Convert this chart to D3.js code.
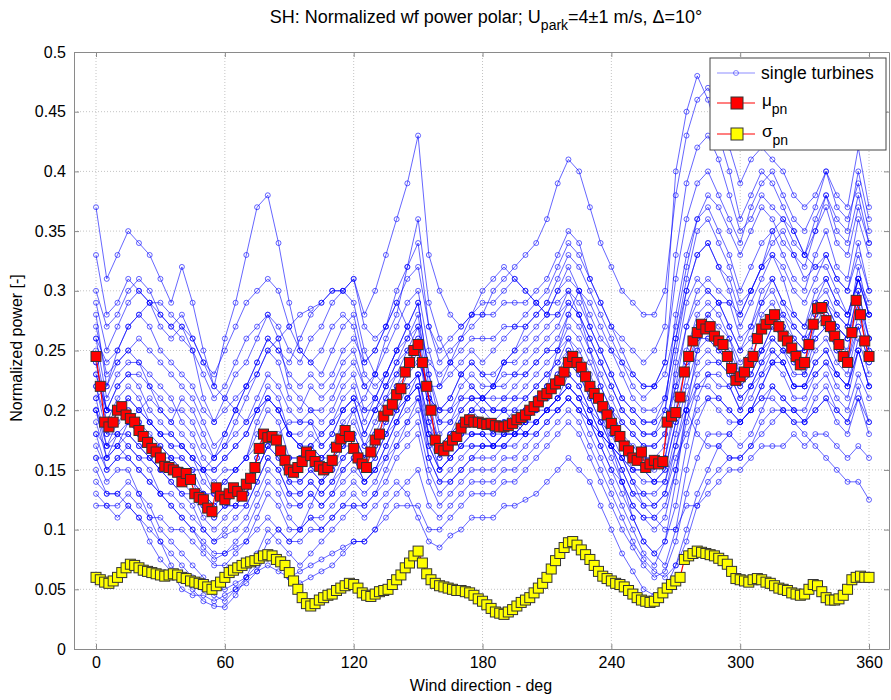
<!DOCTYPE html>
<html lang="en">
<head>
<script src="https://d3js.org/d3.v7.min.js"></script>
</head>
<body style="margin:0;background:#fff">
<style>
svg text { font-family: "Liberation Sans", Arial, sans-serif; fill: #000; }
.grid line { stroke: #c4c4c4; stroke-dasharray: 1,2; }
.ax path, .ax line { stroke: #8a8a8a; }
</style>
<script>
// wind direction of the single turbine curves (deg, every 5)
var dirT = d3.range(0, 361, 5);

// normalized power of the single turbines, 0..360 deg
var wt01 = [.37,.31,.33,.35,.34,.33,.31,.29,.32,.29, .25,.22,.26,.29,.33,.37,.38,.34,.29,.25, .24,.23,.25,.27,.28,.24,.25,.27,.29,.27, .25,.21,.20,.21,.23,.24,.23,.22,.24,.25, .26,.27,.28,.30,.32,.30,.27,.25,.23,.21, .20,.19,.19,.21,.26,.30,.33,.34,.32,.30, .27,.29,.31,.33,.31,.28,.27,.30,.31,.29, .28,.31,.29];
var wt02 = [.30,.27,.28,.30,.31,.30,.28,.27,.26,.25, .23,.21,.22,.24,.26,.27,.28,.27,.25,.24, .26,.27,.29,.30,.31,.28,.30,.33,.36,.39, .43,.33,.30,.28,.27,.28,.29,.29,.30,.31, .30,.29,.28,.30,.31,.30,.28,.26,.25,.24, .22,.21,.22,.23,.27,.32,.36,.38,.37,.35, .33,.35,.37,.36,.34,.33,.32,.35,.37,.34, .33,.37,.34];
var wt03 = [.26,.24,.25,.27,.28,.27,.25,.24,.23,.22, .20,.19,.20,.21,.22,.24,.26,.25,.23,.22, .23,.22,.23,.25,.26,.24,.25,.27,.29,.31, .32,.27,.24,.25,.26,.27,.28,.30,.31,.32, .33,.34,.36,.39,.41,.40,.37,.34,.32,.30, .29,.28,.28,.30,.38,.43,.46,.47,.45,.42, .39,.41,.42,.41,.40,.38,.37,.38,.40,.38, .37,.42,.37];
var wt04 = [.28,.22,.24,.25,.24,.22,.20,.19,.21,.20, .18,.16,.17,.19,.21,.23,.25,.24,.21,.20, .22,.21,.22,.24,.25,.22,.23,.25,.27,.29, .30,.25,.22,.23,.24,.25,.24,.25,.26,.27, .28,.29,.30,.32,.34,.33,.31,.29,.27,.26, .25,.24,.25,.27,.40,.45,.48,.46,.43,.40, .36,.38,.40,.39,.37,.35,.33,.36,.38,.36, .35,.40,.36];
var wt05 = [.33,.28,.29,.31,.30,.29,.27,.26,.27,.25, .21,.19,.21,.23,.24,.26,.28,.26,.22,.21, .20,.19,.20,.22,.23,.20,.21,.23,.25,.27, .29,.23,.19,.20,.22,.23,.22,.22,.23,.23, .24,.25,.26,.27,.29,.28,.26,.24,.22,.20, .19,.18,.18,.20,.28,.33,.36,.37,.35,.33, .30,.32,.34,.35,.33,.31,.30,.33,.35,.32, .31,.36,.33];
var wt06 = [.25,.20,.22,.23,.22,.20,.19,.18,.17,.16, .14,.13,.14,.15,.16,.19,.21,.20,.18,.17, .18,.17,.18,.20,.21,.18,.20,.22,.24,.26, .28,.22,.18,.19,.21,.22,.21,.21,.21,.22, .23,.24,.25,.26,.28,.27,.25,.23,.21,.19, .18,.17,.17,.18,.22,.27,.30,.31,.30,.29, .26,.27,.29,.31,.29,.27,.26,.29,.30,.28, .27,.32,.28];
var wt07 = [.20,.16,.18,.18,.17,.16,.15,.14,.13,.12, .10,.09,.10,.11,.12,.14,.16,.15,.13,.13, .14,.13,.14,.15,.16,.14,.15,.17,.19,.21, .22,.18,.15,.16,.17,.18,.18,.17,.18,.18, .19,.20,.21,.22,.23,.22,.20,.19,.17,.16, .14,.13,.13,.14,.18,.22,.25,.26,.25,.24, .22,.23,.25,.27,.26,.24,.23,.26,.27,.25, .24,.28,.25];
var wt08 = [.12,.12,.11,.12,.11,.10,.09,.08,.07,.06, .05,.045,.04,.05,.06,.07,.09,.10,.09,.09, .10,.10,.11,.12,.13,.12,.13,.14,.16,.17, .18,.14,.12,.13,.14,.15,.15,.15,.16,.16, .17,.18,.19,.20,.21,.20,.18,.16,.14,.12, .10,.08,.07,.09,.12,.17,.21,.23,.22,.22, .20,.21,.23,.25,.24,.22,.22,.24,.25,.23, .22,.26,.23];
var wt09 = [.16,.14,.15,.15,.13,.11,.09,.07,.06,.05, .04,.036,.035,.045,.06,.08,.10,.09,.08,.07, .08,.09,.10,.11,.12,.12,.13,.15,.17,.18, .19,.15,.13,.14,.15,.16,.16,.16,.17,.17, .18,.19,.20,.21,.22,.21,.19,.17,.15,.13, .11,.09,.08,.07,.10,.15,.19,.21,.21,.20, .19,.20,.22,.24,.23,.21,.21,.23,.24,.22, .21,.25,.22];
var wt10 = [.18,.15,.16,.17,.16,.15,.13,.12,.11,.10, .09,.08,.08,.09,.10,.12,.14,.13,.11,.10, .11,.10,.11,.12,.12,.11,.12,.13,.14,.13, .11,.09,.085,.095,.10,.11,.11,.11,.12,.12, .125,.13,.14,.15,.16,.15,.14,.12,.10,.08, .065,.05,.045,.05,.07,.10,.13,.15,.17,.18, .19,.20,.21,.22,.21,.20,.20,.22,.23,.21, .20,.23,.21];
var wt11 = [.22,.18,.20,.21,.20,.19,.18,.17,.16,.15, .13,.12,.13,.13,.14,.16,.18,.17,.15,.14, .15,.14,.15,.17,.18,.16,.17,.19,.21,.23, .25,.20,.17,.18,.19,.20,.20,.19,.20,.20, .21,.22,.23,.24,.25,.24,.22,.20,.18,.16, .14,.12,.12,.13,.16,.18,.20,.21,.20,.19, .19,.20,.21,.21,.20,.19,.18,.17,.16,.15, .14,.14,.125];
var wt12 = [.24,.19,.21,.22,.21,.19,.18,.17,.17,.16, .15,.14,.15,.15,.16,.18,.20,.19,.16,.16, .17,.16,.17,.19,.20,.17,.19,.21,.23,.25, .27,.21,.17,.18,.20,.21,.20,.20,.20,.21, .22,.23,.24,.25,.27,.26,.24,.22,.20,.18, .17,.16,.16,.17,.24,.29,.31,.30,.29,.27, .25,.26,.29,.30,.28,.26,.25,.28,.29,.27, .26,.30,.26];
var wt13 = [.14,.13,.13,.14,.13,.12,.10,.09,.08,.07, .06,.05,.05,.055,.06,.065,.07,.065,.06,.065, .07,.075,.08,.085,.09,.09,.10,.11,.12,.12, .12,.10,.10,.11,.12,.13,.13,.13,.14,.14, .15,.16,.17,.18,.19,.18,.16,.14,.12,.10, .085,.07,.06,.065,.09,.13,.16,.18,.18,.18, .17,.18,.20,.22,.21,.20,.19,.21,.22,.20, .19,.22,.19];
var wt14 = [.21,.17,.19,.20,.19,.18,.17,.16,.15,.14, .12,.11,.12,.13,.13,.15,.17,.16,.14,.13, .14,.13,.14,.16,.17,.15,.16,.18,.20,.22, .23,.19,.16,.17,.18,.19,.19,.18,.19,.19, .20,.21,.22,.23,.24,.23,.21,.19,.18,.17, .15,.15,.15,.16,.20,.24,.27,.28,.27,.26, .23,.24,.27,.28,.27,.25,.24,.27,.28,.26, .25,.29,.25];
var wt15 = [.27,.23,.24,.25,.26,.25,.24,.23,.22,.21, .19,.17,.18,.20,.22,.24,.26,.25,.24,.26, .28,.29,.30,.30,.31,.27,.26,.27,.30,.32, .34,.27,.25,.26,.27,.28,.28,.28,.29,.29, .29,.30,.31,.33,.35,.34,.31,.29,.27,.25, .23,.22,.22,.24,.31,.36,.39,.40,.38,.36, .34,.37,.39,.40,.38,.36,.35,.37,.40,.37, .36,.39,.35];
var wt16 = [.17,.15,.16,.16,.15,.14,.13,.12,.11,.10, .085,.075,.08,.085,.09,.11,.13,.12,.10,.10, .11,.11,.12,.13,.14,.13,.14,.16,.18,.19, .20,.16,.14,.15,.16,.17,.17,.17,.17,.18, .18,.19,.20,.21,.22,.21,.19,.17,.15,.14, .12,.11,.10,.11,.15,.20,.23,.24,.24,.23, .21,.22,.24,.26,.25,.23,.23,.25,.26,.24, .23,.27,.24];
var wt17 = [.23,.20,.22,.23,.23,.22,.21,.20,.20,.19, .17,.16,.17,.18,.19,.21,.23,.22,.20,.19, .19,.18,.19,.21,.22,.19,.21,.23,.25,.27, .29,.23,.20,.21,.23,.24,.23,.23,.24,.24, .25,.26,.27,.28,.30,.29,.27,.25,.23,.21, .20,.19,.19,.20,.25,.30,.33,.34,.32,.31, .28,.30,.32,.33,.32,.30,.29,.31,.33,.31, .30,.34,.30];
var wt18 = [.15,.13,.13,.12,.11,.09,.075,.065,.05,.045, .045,.04,.045,.05,.055,.065,.08,.075,.06,.055, .06,.065,.07,.08,.09,.09,.10,.12,.13,.14, .15,.12,.11,.12,.13,.14,.14,.14,.15,.15, .16,.17,.18,.19,.20,.19,.17,.15,.13,.11, .09,.075,.065,.06,.07,.09,.12,.14,.15,.16, .16,.17,.19,.20,.20,.19,.19,.20,.21,.19, .18,.21,.18];
var wt19 = [.22,.19,.20,.20,.19,.17,.16,.16,.15,.14, .13,.12,.13,.13,.14,.16,.18,.17,.15,.15, .16,.15,.16,.17,.18,.16,.18,.20,.22,.24, .26,.20,.17,.17,.19,.20,.19,.19,.19,.20, .20,.21,.22,.23,.25,.24,.22,.21,.19,.18, .16,.16,.16,.16,.21,.25,.28,.29,.28,.26, .24,.25,.28,.29,.27,.26,.25,.28,.29,.27, .26,.30,.26];
var wt20 = [.19,.16,.17,.18,.17,.16,.15,.14,.13,.13, .11,.10,.11,.12,.12,.14,.16,.15,.13,.12, .13,.12,.13,.15,.16,.14,.15,.17,.19,.21, .22,.17,.15,.16,.17,.18,.18,.17,.18,.18, .19,.20,.20,.21,.23,.22,.20,.18,.17,.15, .13,.13,.12,.13,.17,.21,.24,.25,.24,.23, .21,.22,.24,.25,.24,.22,.22,.24,.25,.23, .22,.25,.22];
var wt21 = [.29,.25,.27,.29,.30,.29,.28,.27,.28,.26, .24,.23,.25,.27,.29,.30,.31,.30,.27,.25, .24,.25,.27,.28,.27,.23,.22,.23,.25,.26, .27,.24,.23,.24,.25,.26,.26,.26,.27,.27, .27,.28,.29,.31,.33,.32,.30,.28,.26,.24, .23,.22,.22,.24,.33,.39,.42,.43,.41,.38, .35,.36,.38,.37,.36,.34,.33,.35,.38,.35, .34,.38,.34];
var wt22 = [.20,.17,.18,.19,.18,.17,.16,.15,.14,.13, .12,.11,.12,.12,.13,.15,.17,.16,.14,.14, .15,.14,.15,.16,.17,.15,.16,.18,.20,.21, .23,.18,.16,.17,.18,.19,.19,.18,.19,.19, .20,.21,.21,.22,.24,.23,.21,.19,.17,.15, .13,.12,.11,.10,.10,.12,.12,.13,.14,.15, .15,.16,.17,.17,.17,.18,.17,.18,.18,.17, .16,.17,.16];
var wt23 = [.26,.21,.23,.24,.24,.23,.22,.21,.19,.18, .16,.15,.16,.17,.18,.20,.22,.21,.18,.18, .19,.17,.18,.20,.21,.18,.20,.22,.24,.25, .26,.21,.19,.19,.20,.21,.21,.20,.21,.21, .21,.22,.23,.24,.26,.25,.23,.21,.20,.19, .18,.17,.17,.18,.23,.27,.29,.30,.29,.27, .25,.27,.30,.31,.29,.28,.27,.29,.31,.29, .28,.31,.28];
var wt24 = [.18,.17,.17,.16,.15,.14,.13,.13,.12,.11, .10,.09,.095,.10,.11,.13,.15,.14,.12,.12, .13,.12,.13,.14,.15,.14,.15,.16,.17,.19, .21,.17,.15,.16,.17,.17,.17,.17,.17,.18, .18,.19,.20,.21,.22,.21,.20,.18,.16,.14, .12,.11,.11,.12,.15,.19,.22,.23,.23,.22, .20,.22,.23,.24,.24,.22,.22,.23,.24,.23, .22,.25,.22];
var wt25 = [.13,.12,.12,.13,.12,.11,.11,.10,.10,.09, .08,.07,.07,.08,.09,.10,.11,.10,.09,.10, .12,.14,.16,.18,.20,.21,.23,.26,.28,.32, .36,.29,.26,.24,.23,.22,.21,.20,.20,.19, .18,.18,.19,.20,.21,.20,.19,.18,.17,.16, .15,.14,.14,.15,.19,.23,.26,.27,.26,.25, .23,.24,.25,.26,.25,.24,.24,.26,.27,.25, .24,.27,.24];
var wt26 = [.21,.22,.25,.27,.28,.29,.29,.28,.27,.26, .24,.22,.21,.20,.19,.20,.21,.20,.18,.17, .17,.16,.17,.18,.19,.17,.18,.19,.21,.22, .23,.19,.17,.18,.19,.20,.21,.22,.24,.25, .27,.28,.29,.29,.30,.28,.25,.22,.20,.18, .16,.15,.14,.14,.17,.20,.22,.22,.21,.20, .19,.20,.22,.24,.25,.25,.25,.27,.28,.27, .26,.29,.26];
var wt27 = [.20,.18,.18,.17,.16,.16,.15,.15,.14,.14, .13,.13,.14,.15,.16,.17,.18,.17,.16,.16, .17,.18,.19,.20,.21,.20,.20,.21,.22,.23, .24,.22,.22,.24,.26,.28,.30,.31,.32,.31, .30,.29,.28,.28,.29,.28,.26,.24,.22,.20, .19,.18,.18,.19,.22,.24,.26,.26,.25,.24, .22,.23,.25,.27,.28,.27,.26,.27,.29,.28, .27,.31,.28];
var wt28 = [.23,.20,.20,.21,.20,.19,.18,.18,.17,.16, .15,.15,.16,.17,.18,.20,.21,.20,.18,.17, .16,.16,.16,.17,.17,.16,.17,.18,.19,.20, .21,.18,.17,.17,.18,.18,.18,.18,.18,.19, .19,.19,.20,.20,.21,.20,.19,.18,.17,.16, .15,.15,.14,.15,.19,.20,.18,.17,.17,.16, .16,.17,.18,.19,.20,.20,.19,.20,.21,.20, .19,.21,.19];
var wt29 = [.24,.20,.20,.19,.18,.17,.17,.16,.16,.15, .15,.16,.18,.20,.22,.23,.25,.26,.27,.28, .285,.29,.30,.30,.29,.25,.23,.22,.23,.24, .25,.21,.20,.20,.21,.21,.21,.22,.22,.23, .23,.24,.25,.25,.26,.24,.22,.20,.17,.14, .11,.09,.08,.09,.14,.20,.25,.28,.29,.29, .28,.30,.32,.34,.35,.33,.31,.32,.33,.31, .30,.33,.30];
var wt30 = [.16,.16,.17,.19,.20,.21,.20,.19,.18,.17, .15,.13,.12,.12,.13,.15,.17,.18,.19,.19, .20,.20,.21,.23,.24,.22,.21,.20,.20,.21, .22,.16,.14,.14,.15,.16,.17,.17,.18,.18, .19,.20,.22,.25,.28,.30,.29,.27,.25,.23, .21,.20,.20,.21,.26,.31,.35,.36,.34,.32, .29,.30,.32,.35,.36,.35,.33,.32,.32,.30, .28,.31,.28];
var turbines = [wt01, wt02, wt03, wt04, wt05, wt06, wt07, wt08, wt09, wt10,
                wt11, wt12, wt13, wt14, wt15, wt16, wt17, wt18, wt19, wt20,
                wt21, wt22, wt23, wt24, wt25, wt26, wt27, wt28, wt29, wt30];

// wind direction of the park statistics (deg, every 2)
var dirS = d3.range(0, 361, 2);
// mean normalized power mu_pn
var muPn = [.245,.22,.19,.186,.19,.2,.203,.196,.193,.19,
  .183,.178,.173,.168,.165,.16,.153,.152,.15,.148,
  .14,.147,.142,.13,.127,.125,.118,.115,.135,.128,
  .125,.13,.135,.132,.128,.138,.143,.152,.168,.18,
  .177,.178,.175,.166,.158,.15,.148,.152,.157,.165,
  .162,.157,.153,.15,.152,.158,.169,.176,.183,.178,
  .168,.16,.155,.152,.165,.175,.18,.195,.2,.205,
  .213,.218,.232,.24,.25,.255,.24,.22,.2,.175,
  .168,.166,.17,.175,.178,.185,.19,.192,.19,.19,
  .189,.188,.189,.187,.186,.186,.187,.189,.192,.194,
  .196,.2,.203,.207,.212,.214,.218,.222,.225,.232,
  .24,.245,.24,.236,.228,.22,.214,.21,.203,.196,
  .189,.183,.178,.17,.166,.16,.158,.165,.152,.155,
  .158,.155,.157,.19,.195,.198,.211,.232,.245,.258,
  .265,.272,.268,.27,.262,.258,.255,.245,.235,.225,
  .228,.232,.24,.245,.26,.268,.272,.276,.28,.27,
  .262,.258,.252,.245,.238,.24,.255,.272,.285,.286,
  .275,.27,.262,.255,.245,.24,.265,.292,.28,.258,
  .245];
// standard deviation sigma_pn
var sigmaPn = [.06,.058,.056,.055,.057,.06,.064,.068,.071,.07,
  .068,.066,.065,.064,.063,.062,.061,.062,.063,.062,
  .06,.059,.057,.056,.055,.054,.052,.05,.053,.056,
  .06,.064,.066,.068,.07,.072,.073,.074,.076,.078,
  .079,.078,.075,.073,.07,.064,.057,.05,.043,.038,
  .036,.038,.041,.043,.045,.046,.049,.051,.053,.055,
  .054,.051,.047,.045,.044,.046,.048,.049,.05,.054,
  .058,.062,.068,.072,.078,.082,.072,.063,.058,.055,
  .053,.052,.051,.05,.049,.049,.048,.047,.045,.042,
  .04,.037,.034,.031,.03,.029,.031,.033,.036,.039,
  .041,.043,.047,.051,.055,.06,.067,.074,.08,.085,
  .089,.09,.087,.083,.079,.075,.07,.065,.061,.059,
  .057,.055,.054,.052,.049,.046,.043,.041,.04,.039,
  .04,.043,.047,.051,.054,.057,.06,.075,.078,.08,
  .082,.081,.08,.079,.078,.076,.074,.071,.065,.059,
  .058,.057,.056,.058,.059,.058,.056,.055,.053,.051,
  .05,.049,.047,.046,.045,.046,.05,.054,.053,.048,
  .043,.041,.041,.042,.045,.05,.058,.06,.061,.06,
  .06];

var xTicks = [0, 60, 120, 180, 240, 300, 360];
var yTicks = [0, 0.05, 0.1, 0.15, 0.2, 0.25, 0.3, 0.35, 0.4, 0.45, 0.5];
var yTickLabels = ["0", "0.05", "0.1", "0.15", "0.2", "0.25", "0.3", "0.35", "0.4", "0.45", "0.5"];

var width = 891, height = 700;
var plotL = 74, plotR = 889, plotT = 52, plotB = 649;

var svg = d3.select("body").append("svg")
  .attr("width", width)
  .attr("height", height);

var x = d3.scaleLinear().domain([-10.25, 369.3]).range([plotL, plotR]);
var y = d3.scaleLinear().domain([0, 0.5]).range([plotB, plotT]);

// dotted grid
var grid = svg.append("g").attr("class", "grid");
grid.selectAll(".gx").data(xTicks).enter().append("line")
  .attr("x1", d => x(d)).attr("x2", d => x(d))
  .attr("y1", plotT).attr("y2", plotB);
grid.selectAll(".gy").data(yTicks.slice(1, -1)).enter().append("line")
  .attr("x1", plotL).attr("x2", plotR)
  .attr("y1", d => y(d)).attr("y2", d => y(d));

// single turbines
var blue = "#0000ff";
var line = d3.line().x((d, i) => x(dirT[i])).y(d => y(d));
var tg = svg.append("g");
turbines.forEach(function(t) {
  tg.append("path").attr("d", line(t))
    .attr("fill", "none").attr("stroke", blue)
    .attr("stroke-opacity", 0.6).attr("stroke-width", 1);
  tg.selectAll(null).data(t).enter().append("circle")
    .attr("cx", (d, i) => x(dirT[i])).attr("cy", d => y(d))
    .attr("r", 2.5).attr("fill", "none")
    .attr("stroke", blue).attr("stroke-opacity", 0.6).attr("stroke-width", 1);
});

// mean and sigma with square markers
function squares(vals, fill) {
  var g = svg.append("g");
  var l = d3.line().x((d, i) => x(dirS[i])).y(d => y(d));
  g.append("path").attr("d", l(vals))
    .attr("fill", "none").attr("stroke", "#ff0000").attr("stroke-width", 1.2);
  g.selectAll("rect").data(vals).enter().append("rect")
    .attr("x", (d, i) => x(dirS[i]) - 5).attr("y", d => y(d) - 5)
    .attr("width", 10).attr("height", 10)
    .attr("fill", fill).attr("stroke", "#333").attr("stroke-width", 1);
}
squares(muPn, "#ff0000");
squares(sigmaPn, "#ffff00");

// axes with inward ticks on all four sides
var fmt = d => yTickLabels[yTicks.indexOf(d)];
var ax = svg.append("g").attr("class", "ax");
ax.append("g").attr("transform", "translate(0," + plotB + ")")
  .call(d3.axisBottom(x).tickValues(xTicks).tickSize(-5).tickPadding(8).tickSizeOuter(0))
  .selectAll("text").style("font-size", "16px");
ax.append("g").attr("transform", "translate(0," + plotT + ")")
  .call(d3.axisTop(x).tickValues(xTicks).tickSize(-5).tickFormat("").tickSizeOuter(0));
ax.append("g").attr("transform", "translate(" + plotL + ",0)")
  .call(d3.axisLeft(y).tickValues(yTicks).tickFormat(fmt).tickSize(-5).tickPadding(8).tickSizeOuter(0))
  .selectAll("text").style("font-size", "16px");
ax.append("g").attr("transform", "translate(" + plotR + ",0)")
  .call(d3.axisRight(y).tickValues(yTicks).tickFormat("").tickSize(-5).tickSizeOuter(0));
ax.selectAll("text").attr("fill", "#000");

// title and axis labels
var title = svg.append("text").attr("x", 486).attr("y", 23)
  .attr("text-anchor", "middle").style("font-size", "18px");
title.append("tspan").text("SH: Normalized wf power polar; U");
title.append("tspan").attr("dy", 7).style("font-size", "14px").text("park");
title.append("tspan").attr("dy", -7).text("=4±1 m/s, Δ=10°");

svg.append("text").attr("x", 481).attr("y", 691)
  .attr("text-anchor", "middle").style("font-size", "16px")
  .text("Wind direction - deg");
svg.append("text").attr("transform", "translate(22,348) rotate(-90)")
  .attr("text-anchor", "middle").style("font-size", "16px")
  .text("Normalized power [-]");

// legend
var lg = svg.append("g").attr("transform", "translate(710,58)");
lg.append("rect").attr("width", 176).attr("height", 92)
  .attr("fill", "#fff").attr("stroke", "#444").attr("stroke-width", 1);
lg.append("line").attr("x1", 7).attr("x2", 45).attr("y1", 15).attr("y2", 15)
  .attr("stroke", blue).attr("stroke-opacity", 0.45);
lg.append("circle").attr("cx", 26).attr("cy", 15).attr("r", 2.5)
  .attr("fill", "none").attr("stroke", blue).attr("stroke-opacity", 0.45);
lg.append("text").attr("x", 51).attr("y", 21).style("font-size", "17.5px").text("single turbines");
[["μ", "#ff0000", 45], ["σ", "#ffff00", 76]].forEach(function(e) {
  lg.append("line").attr("x1", 7).attr("x2", 45).attr("y1", e[2]).attr("y2", e[2])
    .attr("stroke", "#ff0000").attr("stroke-width", 1.2);
  lg.append("rect").attr("x", 21).attr("y", e[2] - 6).attr("width", 12).attr("height", 12)
    .attr("fill", e[1]).attr("stroke", "#333");
  var t = lg.append("text").attr("x", 52).attr("y", e[2] + 3).style("font-size", "17px");
  t.append("tspan").text(e[0]);
  t.append("tspan").attr("dy", 8).style("font-size", "14px").text("pn");
});
</script>
</body>
</html>
